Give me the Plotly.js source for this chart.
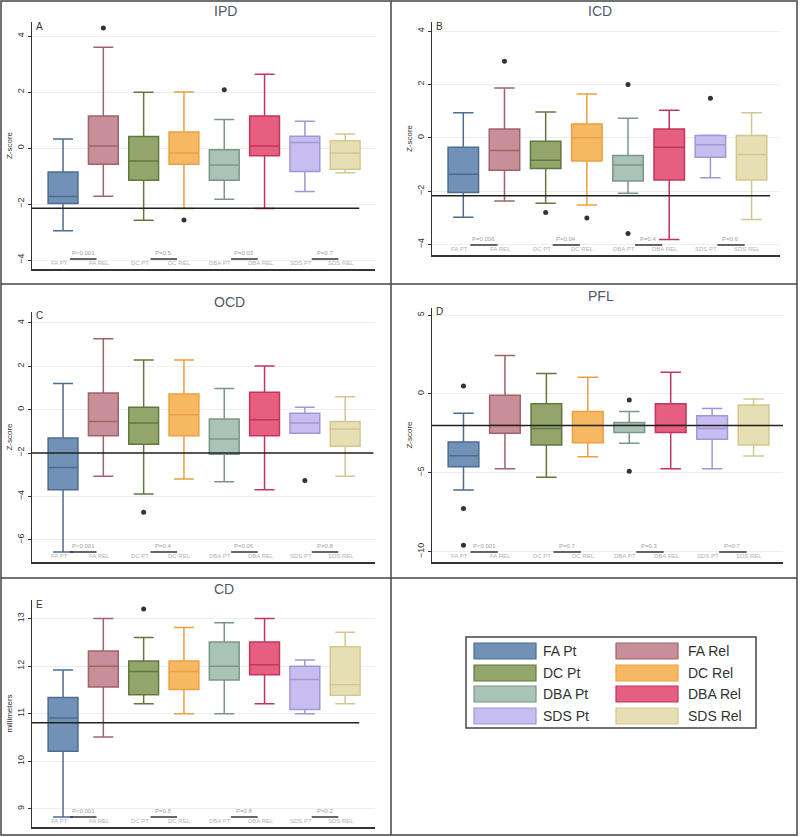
<!DOCTYPE html>
<html>
<head>
<meta charset="utf-8">
<script src="https://cdn.plot.ly/plotly-3.0.1.min.js"></script>
<style>html,body{margin:0;padding:0;background:#fff;}#chart{width:800px;height:837px;}</style>
</head>
<body>
<div id="chart"></div>
<script>
// ---------- DATA ----------
const groups = ['FA Pt','FA Rel','DC Pt','DC Rel','DBA Pt','DBA Rel','SDS Pt','SDS Rel'];
const tickNames = ['FA PT','FA REL','DC PT','DC REL','DBA PT','DBA REL','SDS PT','SDS REL'];
const fillColors = ['#7191b6','#c88f98','#92a66c','#f7b864','#a9c3b7','#e65e80','#c7bdf0','#e7dfb4'];
const lineColors = ['#4c6c92','#a0636c','#62773f','#eda043','#7b9588','#c1375c','#a297d6','#d3c791'];

// IPD
const ipdLower  = [-2.95,-1.72,-2.58,-2.16,-1.83,-2.16,-1.55,-0.88];
const ipdQ1     = [-1.98,-0.58,-1.15,-0.58,-1.15,-0.28,-0.84,-0.76];
const ipdMedian = [-1.73, 0.07,-0.46,-0.18,-0.61, 0.07, 0.20,-0.18];
const ipdQ3     = [-0.86, 1.14, 0.41, 0.57,-0.06, 1.14, 0.42, 0.26];
const ipdUpper  = [ 0.32, 3.60, 1.99, 2.00, 1.02, 2.63, 0.96, 0.50];
const ipdOutGroup = [1,3,4];
const ipdOutValue = [4.29,-2.57,2.08];
const ipdRef = -2.15;
const ipdP = ['P<0.001','P=0.5','P=0.03','P=0.7'];

// ICD
const icdLower  = [-2.98,-2.37,-2.45,-2.52,-2.08,-3.81,-1.50,-3.06];
const icdQ1     = [-2.05,-1.21,-1.15,-0.87,-1.62,-1.58,-0.73,-1.58];
const icdMedian = [-1.36,-0.47,-0.84, 0.00,-1.02,-0.35,-0.26,-0.62];
const icdQ3     = [-0.35, 0.33,-0.13, 0.52,-0.66, 0.33, 0.09, 0.09];
const icdUpper  = [ 0.94, 1.87, 0.97, 1.64, 0.73, 1.03, 0.10, 0.94];
const icdOutGroup = [1,2,3,4,4,6];
const icdOutValue = [2.87,-2.80,-3.00,2.00,-3.58,1.48];
const icdRef = -2.17;
const icdP = ['P=0.006','P=0.04','P=0.4','P=0.6'];

// OCD
const ocdLower  = [-6.56,-3.07,-3.89,-3.20,-3.32,-3.69,-1.09,-3.07];
const ocdQ1     = [-3.69,-1.20,-1.59,-1.20,-2.06,-1.20,-1.09,-1.69];
const ocdMedian = [-2.66,-0.54,-0.62,-0.23,-1.35,-0.46,-0.62,-0.89];
const ocdQ3     = [-1.31, 0.77, 0.11, 0.72,-0.43, 0.80,-0.17,-0.54];
const ocdUpper  = [ 1.20, 3.27, 2.29, 2.29, 0.98, 2.01, 0.11, 0.60];
const ocdOutGroup = [2,6];
const ocdOutValue = [-4.73,-3.26];
const ocdRef = -2;
const ocdP = ['P<0.001','P=0.4','P=0.06','P=0.8'];

// PFL
const pflLower  = [-6.10,-4.75,-5.28,-3.99,-3.13,-4.75,-4.75,-3.94];
const pflQ1     = [-4.62,-2.50,-3.24,-3.10,-2.44,-2.44,-2.88,-3.24];
const pflMedian = [-3.92,-1.99,-2.20,-1.99,-1.99,-1.99,-2.20,-2.00];
const pflQ3     = [-3.05,-0.08,-0.62,-1.12,-1.82,-0.62,-1.38,-0.70];
const pflUpper  = [-1.23, 2.44, 1.29, 1.06,-1.12, 1.38,-0.93,-0.32];
const pflOutGroup = [0,0,0,4,4];
const pflOutValue = [0.51,-7.27,-9.60,-0.38,-4.90];
const pflRef = -2;
const pflP = ['P<0.001','P=0.7','P=0.3','P=0.7'];

// CD
const cdLower  = [ 8.83,10.51,11.21,11.00,11.00,11.21,11.00,11.21];
const cdQ1     = [10.21,11.56,11.40,11.51,11.71,11.82,11.09,11.39];
const cdMedian = [10.91,12.00,11.89,11.89,12.00,12.03,11.72,11.61];
const cdQ3     = [11.34,12.32,12.11,12.11,12.51,12.51,12.00,12.41];
const cdUpper  = [11.92,13.00,12.60,12.81,12.91,13.00,12.13,12.71];
const cdOutGroup = [2];
const cdOutValue = [13.2];
const cdRef = 10.81;
const cdP = ['P<0.001','P=0.8','P=0.8','P=0.2'];

// ---------- LAYOUT HELPERS ----------
const W = 800, H = 837;
const fx = v => v / W;
const fy = v => 1 - v / H;
const FONT = 'Liberation Sans, Arial, sans-serif';

const panels = [
  {title:'IPD', letter:'A', xpx:[32,375], ypx:[22,269], titleY:11, yr:[-4.32,4.5], xr:[-0.77,7.74], tv:[-4,-2,0,2,4], ytitle:'Z-score',
   s:{lo:ipdLower,q1:ipdQ1,md:ipdMedian,q3:ipdQ3,hi:ipdUpper,og:ipdOutGroup,ov:ipdOutValue,ref:ipdRef,p:ipdP}, refEnd:7.35},
  {title:'ICD', letter:'B', xpx:[432,780], ypx:[22,255], titleY:11, yr:[-4.39,4.34], xr:[-0.76,7.69], tv:[-4,-2,0,2,4], ytitle:'Z-score',
   s:{lo:icdLower,q1:icdQ1,md:icdMedian,q3:icdQ3,hi:icdUpper,og:icdOutGroup,ov:icdOutValue,ref:icdRef,p:icdP}, refEnd:7.45},
  {title:'OCD', letter:'C', xpx:[32,375], ypx:[312,562], titleY:302, yr:[-7.02,4.5], xr:[-0.77,7.74], tv:[-6,-4,-2,0,2,4], ytitle:'Z-score',
   s:{lo:ocdLower,q1:ocdQ1,md:ocdMedian,q3:ocdQ3,hi:ocdUpper,og:ocdOutGroup,ov:ocdOutValue,ref:ocdRef,p:ocdP}, refEnd:7.7},
  {title:'PFL', letter:'D', xpx:[432,783], ypx:[308,562], titleY:296, yr:[-10.66,5.45], xr:[-0.76,7.71], tv:[-10,-5,0,5], ytitle:'Z-score',
   s:{lo:pflLower,q1:pflQ1,md:pflMedian,q3:pflQ3,hi:pflUpper,og:pflOutGroup,ov:pflOutValue,ref:pflRef,p:pflP}, refEnd:7.71},
  {title:'CD', letter:'E', xpx:[32,375], ypx:[600,827], titleY:589, yr:[8.62,13.39], xr:[-0.77,7.74], tv:[9,10,11,12,13], ytitle:'millimeters',
   s:{lo:cdLower,q1:cdQ1,md:cdMedian,q3:cdQ3,hi:cdUpper,og:cdOutGroup,ov:cdOutValue,ref:cdRef,p:cdP}, refEnd:7.35}
];

const traces = [];
const layout = {
  width: W, height: H,
  margin: {l:0, r:0, t:0, b:0},
  paper_bgcolor: '#fff', plot_bgcolor: '#fff',
  showlegend: false,
  boxmode: 'overlay',
  font: {family: FONT, color: '#333'},
  shapes: [], annotations: []
};

panels.forEach((p, k) => {
  const n = k === 0 ? '' : String(k + 1);
  const xa = 'x' + n, ya = 'y' + n;
  const hPx = p.ypx[1] - p.ypx[0];
  layout['xaxis' + n] = {
    domain: [fx(p.xpx[0]), fx(p.xpx[1])], range: p.xr, anchor: ya,
    showline: true, linecolor: '#333', linewidth: 1.5, showgrid: false, zeroline: false,
    showticklabels: false, ticks: '', fixedrange: true
  };
  layout['yaxis' + n] = {
    domain: [fy(p.ypx[1]), fy(p.ypx[0])], range: p.yr, anchor: xa,
    tickvals: p.tv, tickangle: -90, tickfont: {size: 9, color: '#333'},
    ticks: 'outside', ticklen: 3, tickcolor: '#333',
    showline: true, linecolor: '#333', linewidth: 1.5,
    showgrid: true, gridcolor: '#eeeeee', gridwidth: 1, zeroline: false,
    title: {text: p.ytitle, font: {size: 8, color: '#333'}, standoff: 2}, fixedrange: true
  };
  const s = p.s;
  groups.forEach((g, i) => {
    traces.push({
      type: 'box', name: g, x: [i], xaxis: xa, yaxis: ya,
      q1: [s.q1[i]], median: [s.md[i]], q3: [s.q3[i]],
      lowerfence: [s.lo[i]], upperfence: [s.hi[i]],
      fillcolor: fillColors[i], line: {color: lineColors[i], width: 1.5},
      width: 0.74, whiskerwidth: 0.67, boxpoints: false, hoverinfo: 'skip'
    });
    layout.annotations.push({
      xref: xa, yref: ya + ' domain', x: i - 0.1, y: 0, yanchor: 'bottom', yshift: 1,
      text: tickNames[i], showarrow: false, font: {size: 6, color: '#b3b3b3'}
    });
  });
  traces.push({
    type: 'scatter', mode: 'markers', xaxis: xa, yaxis: ya,
    x: s.og, y: s.ov, marker: {size: 5, color: '#333'}, hoverinfo: 'skip'
  });
  layout.shapes.push({
    type: 'line', xref: xa, yref: ya, x0: p.xr[0], x1: p.refEnd, y0: s.ref, y1: s.ref,
    line: {color: '#222', width: 1.6}, layer: 'above'
  });
  s.p.forEach((t, j) => {
    const mid = 2 * j + 0.5;
    layout.annotations.push({
      xref: xa, yref: ya + ' domain', x: mid, y: 10 / hPx, yanchor: 'bottom', yshift: 1,
      text: t, showarrow: false, font: {size: 6, color: '#a0a0a0'}
    });
    layout.shapes.push({
      type: 'line', xref: xa, yref: ya + ' domain', x0: mid - 0.33, x1: mid + 0.33,
      y0: 10 / hPx, y1: 10 / hPx, line: {color: '#333', width: 1.5}
    });
  });
  layout.annotations.push({
    xref: 'paper', yref: 'paper', x: fx((p.xpx[0] + p.xpx[1]) / 2 + 8), y: fy(p.titleY),
    text: p.title, showarrow: false, font: {size: 14, color: '#505868'}, yanchor: 'middle'
  });
  layout.annotations.push({
    xref: 'paper', yref: 'paper', x: fx(p.xpx[0] + 2), y: fy(p.ypx[0] + 4), xanchor: 'left',
    text: p.letter, showarrow: false, font: {size: 10, color: '#333'}, yanchor: 'middle'
  });
});

// panel frames
const frameLine = {color: '#444', width: 1.5};
layout.shapes.push({type: 'rect', xref: 'paper', yref: 'paper', x0: fx(1), x1: fx(797), y0: fy(835), y1: fy(1), line: frameLine});
layout.shapes.push({type: 'line', xref: 'paper', yref: 'paper', x0: fx(391), x1: fx(391), y0: fy(835), y1: fy(1), line: frameLine});
layout.shapes.push({type: 'line', xref: 'paper', yref: 'paper', x0: fx(1), x1: fx(797), y0: fy(284), y1: fy(284), line: frameLine});
layout.shapes.push({type: 'line', xref: 'paper', yref: 'paper', x0: fx(1), x1: fx(797), y0: fy(578), y1: fy(578), line: frameLine});

// manual legend
layout.shapes.push({type: 'rect', xref: 'paper', yref: 'paper', x0: fx(466), x1: fx(756), y0: fy(728), y1: fy(637), line: {color: '#444', width: 1.5}});
const legCols = [{sx: 474, tx: 541}, {sx: 616, tx: 686}];
const legRows = [643, 665, 686, 708];
groups.forEach((g, i) => {
  const c = legCols[i % 2], r = legRows[Math.floor(i / 2)];
  layout.shapes.push({type: 'rect', xref: 'paper', yref: 'paper', x0: fx(c.sx), x1: fx(c.sx + 62), y0: fy(r + 16), y1: fy(r),
    fillcolor: fillColors[i], line: {color: lineColors[i], width: 1.2}});
  layout.annotations.push({xref: 'paper', yref: 'paper', x: fx(c.tx), y: fy(r + 8), xanchor: 'left', yanchor: 'middle',
    text: g, showarrow: false, font: {size: 14, color: '#333', family: FONT}});
});

Plotly.newPlot('chart', traces, layout, {staticPlot: true, displayModeBar: false});
</script>
</body>
</html>
